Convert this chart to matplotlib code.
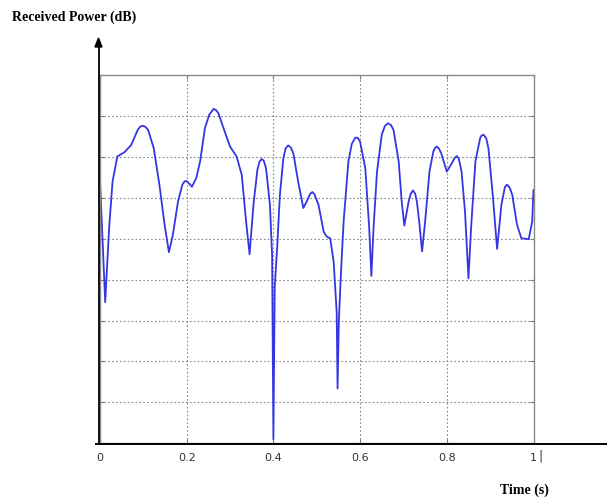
import numpy as np
import matplotlib.pyplot as plt
from matplotlib.lines import Line2D

# received power trace (time in s, power in grid units)
t = [0.000, 0.012, 0.021, 0.029, 0.040, 0.056, 0.072, 0.087, 0.093, 0.099,
     0.105, 0.111, 0.124, 0.137, 0.149, 0.159, 0.168, 0.180, 0.190, 0.195,
     0.199, 0.203, 0.212, 0.222, 0.231, 0.242, 0.252, 0.262, 0.267, 0.273,
     0.285, 0.300, 0.315, 0.327, 0.337, 0.345, 0.354, 0.363, 0.368, 0.373,
     0.378, 0.383, 0.392, 0.397, 0.400, 0.403, 0.409, 0.415, 0.423, 0.428,
     0.434, 0.440, 0.446, 0.457, 0.469, 0.477, 0.485, 0.490, 0.495, 0.504,
     0.516, 0.523, 0.531, 0.539, 0.546, 0.548, 0.551, 0.556, 0.562, 0.573,
     0.581, 0.589, 0.595, 0.600, 0.612, 0.621, 0.626, 0.631, 0.639, 0.650,
     0.657, 0.664, 0.671, 0.677, 0.689, 0.696, 0.702, 0.712, 0.717, 0.722,
     0.727, 0.731, 0.737, 0.743, 0.750, 0.760, 0.769, 0.773, 0.777, 0.782,
     0.787, 0.800, 0.812, 0.818, 0.823, 0.828, 0.834, 0.842, 0.850, 0.856,
     0.866, 0.877, 0.880, 0.885, 0.891, 0.896, 0.906, 0.916, 0.926, 0.934,
     0.939, 0.945, 0.951, 0.962, 0.972, 0.989, 0.997, 1.000]
p = [6.43, 3.45, 5.26, 6.40, 7.01, 7.11, 7.29, 7.66, 7.74, 7.76,
     7.73, 7.66, 7.21, 6.32, 5.34, 4.67, 5.09, 5.91, 6.32, 6.40,
     6.41, 6.38, 6.27, 6.48, 6.89, 7.70, 8.03, 8.17, 8.15, 8.07,
     7.70, 7.25, 7.01, 6.56, 5.42, 4.62, 5.83, 6.68, 6.88, 6.95,
     6.90, 6.72, 5.83, 4.60, 0.10, 3.80, 4.85, 6.07, 6.97, 7.20,
     7.28, 7.23, 7.09, 6.40, 5.75, 5.91, 6.10, 6.14, 6.08, 5.83,
     5.17, 5.05, 5.01, 4.44, 3.20, 1.34, 3.00, 4.20, 5.42, 6.89,
     7.32, 7.47, 7.46, 7.37, 6.72, 5.26, 4.09, 5.26, 6.64, 7.54,
     7.75, 7.82, 7.78, 7.66, 6.89, 5.91, 5.32, 5.91, 6.10, 6.18,
     6.10, 5.91, 5.35, 4.69, 5.42, 6.64, 7.13, 7.22, 7.25, 7.20,
     7.09, 6.64, 6.85, 6.97, 7.02, 6.94, 6.64, 5.66, 4.03, 5.26,
     6.89, 7.46, 7.52, 7.54, 7.45, 7.21, 6.07, 4.75, 5.83, 6.26,
     6.32, 6.25, 6.07, 5.34, 5.01, 4.99, 5.42, 6.19]

xticks = [0, 0.2, 0.4, 0.6, 0.8, 1]
xtick_labels = ['0', '0.2', '0.4', '0.6', '0.8', '1']
ygrid = [1, 2, 3, 4, 5, 6, 7, 8]

W, H = 607, 499
fig = plt.figure(figsize=(W / 100, H / 100), dpi=100)
ax = fig.add_axes([100 / W, 1 - 443.3 / H, 433.5 / W, 368.3 / H])

ax.plot(t, p, color='#3535e3', lw=1.3, solid_joinstyle='round')
ax.set_xlim(0, 1)
ax.set_ylim(0, 9)
ax.set_xticks(xticks)
ax.set_xticklabels(xtick_labels, fontsize=8, color='#333333', family='DejaVu Sans')
ax.set_yticks(ygrid)
ax.set_yticklabels([])
ax.tick_params(direction='in', length=3, color='#777777', top=True, right=True,
               pad=7)
ax.grid(True, ls=(0, (1.5, 2.0)), color='#888888', lw=0.8)
for s in ax.spines.values():
    s.set_color('#8a8a8a')
    s.set_linewidth(1.0)

# black axes drawn over the box, like the original figure
fig.add_artist(Line2D([96 / W, 1.0], [1 - 443.5 / H] * 2, color='black', lw=1.4))
fig.add_artist(Line2D([98.5 / W] * 2, [1 - 443.5 / H, 1 - 45 / H], color='black', lw=1.3))
fig.patches.append(plt.Polygon([[98.5 / W, 1 - 38 / H], [95 / W, 1 - 47 / H],
                                [102 / W, 1 - 47 / H]], closed=True,
                               color='black', transform=fig.transFigure))

fig.text(541 / W, 1 - 456 / H, '|', fontsize=9, color='#333333',
         ha='center', va='center')
fig.text(12 / W, 1 - 17 / H, 'Received Power (dB)', fontsize=10, fontweight='bold',
         family='Liberation Serif', ha='left', va='center')
fig.text(524 / W, 1 - 490 / H, 'Time (s)', fontsize=10, fontweight='bold',
         family='Liberation Serif', ha='center', va='center')

fig.savefig('out.png', dpi=100)
